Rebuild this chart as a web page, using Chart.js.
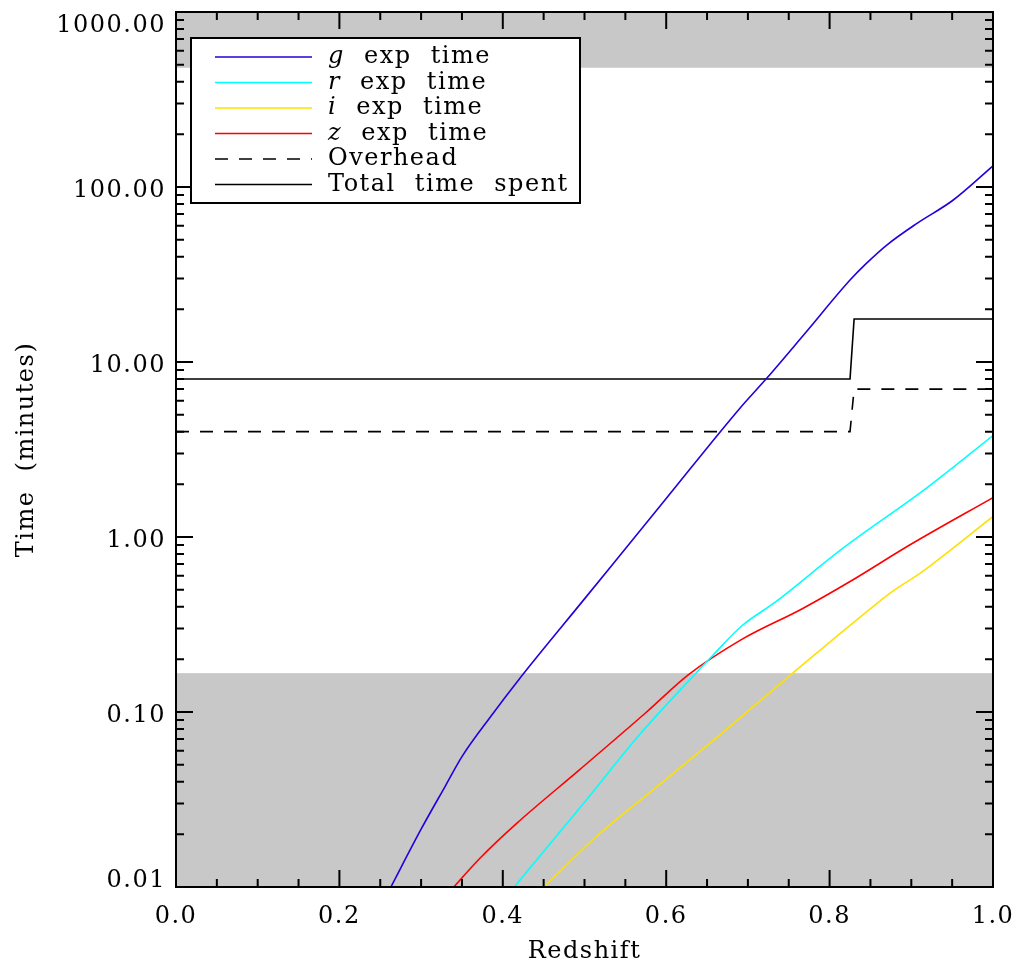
<!DOCTYPE html>
<html>
<head>
<meta charset="utf-8">
<script src="https://cdn.jsdelivr.net/npm/chart.js@4.4.1/dist/chart.umd.min.js"></script>
<style>
html, body { margin: 0; padding: 0; background: #fff; }
</style>
</head>
<body>
<canvas id="timeChart" width="1017" height="963"></canvas>
<script>
// redshift / time (minutes)
const gZ = [0.263, 0.30, 0.33, 0.35, 0.385, 0.42, 0.50, 0.60, 0.69, 0.723, 0.77, 0.825, 0.845, 0.87, 0.907, 0.951, 1.0];
const gTime = [0.01, 0.0214, 0.038, 0.0556, 0.094, 0.154, 0.443, 1.66, 5.43, 8.07, 14.6, 29.4, 36.6, 46.6, 62, 84, 132];

const rZ = [0.414, 0.50, 0.568, 0.630, 0.658, 0.692, 0.733, 0.816, 0.919, 1.0];
const rTime = [0.01, 0.0305, 0.0748, 0.155, 0.213, 0.309, 0.423, 0.861, 1.91, 3.8];

const iZ = [0.450, 0.515, 0.576, 0.658, 0.755, 0.857, 0.88, 0.907, 0.924, 1.0];
const iTime = [0.01, 0.0195, 0.0335, 0.069, 0.167, 0.414, 0.50, 0.604, 0.689, 1.31];

const zZ = [0.340, 0.372, 0.417, 0.4945, 0.576, 0.627, 0.692, 0.766, 0.824, 0.898, 1.0];
const zTime = [0.01, 0.0146, 0.0231, 0.047, 0.10, 0.163, 0.259, 0.388, 0.553, 0.90, 1.68];

const stepZ = [0, 0.825, 0.830, 1.0];
const overheadTime = [4, 4, 7, 7];
const totalTime = [8, 8, 17.6, 17.6];

// shaded limits (minutes)
const bandLow = [0.01, 0.1667];
const bandHigh = [480, 1000];

const xTicks = [0.0, 0.2, 0.4, 0.6, 0.8, 1.0];
const yTicks = [0.01, 0.1, 1, 10, 100, 1000];

const FONT = "'DejaVu Serif', serif";

function pts(xs, ys) {
    return xs.map((v, i) => ({ x: v, y: ys[i] }));
}

const series = [
    { band: 'g', label: ' exp time', color: '#2200dd', data: pts(gZ, gTime) },
    { band: 'r', label: ' exp time', color: '#00ffff', data: pts(rZ, rTime) },
    { band: 'i', label: ' exp time', color: '#ffe000', data: pts(iZ, iTime) },
    { band: 'z', label: ' exp time', color: '#ff0000', data: pts(zZ, zTime) },
    { band: '', label: 'Overhead', color: '#000', dash: [13, 11], data: pts(stepZ, overheadTime) },
    { band: '', label: 'Total time spent', color: '#000', data: pts(stepZ, totalTime) }
];

const datasets = series.map(s => ({
    data: s.data,
    showLine: true,
    borderColor: s.color,
    borderWidth: 1.6,
    borderDash: s.dash || [],
    pointRadius: 0,
    cubicInterpolationMode: s.band ? 'monotone' : 'default',
    tension: 0
}));

// end labels sit inside the axis range, like the original plot
function yLabel(v) {
    const txt = Number(v).toFixed(2);
    if (v === yTicks[yTicks.length - 1]) return ['', txt];
    if (v === yTicks[0]) return [txt, ''];
    return txt;
}

const plotDecor = {
    id: 'plotDecor',
    beforeDraw(chart) {
        // the original lettering is wider and more spaced out
        chart.ctx.letterSpacing = '1.5px';
        chart.ctx.wordSpacing = '10px';
    },
    beforeDatasetsDraw(chart) {
        const { ctx, chartArea: a, scales: { y } } = chart;
        ctx.save();
        ctx.fillStyle = '#c8c8c8';
        [bandLow, bandHigh].forEach(b => {
            const top = y.getPixelForValue(b[1]);
            const bot = y.getPixelForValue(b[0]);
            ctx.fillRect(a.left, top, a.right - a.left, bot - top);
        });
        ctx.restore();
    },
    afterDatasetsDraw(chart) {
        const { ctx, chartArea: a, scales: { x, y } } = chart;
        ctx.save();
        ctx.strokeStyle = '#000';
        ctx.lineWidth = 2;
        ctx.beginPath();
        // x ticks, inward on bottom and top
        for (let k = 0; k <= 20; k++) {
            const px = x.getPixelForValue(k * 0.05);
            const len = (k % 4 === 0) ? 17 : 8;
            ctx.moveTo(px, a.bottom); ctx.lineTo(px, a.bottom - len);
            ctx.moveTo(px, a.top); ctx.lineTo(px, a.top + len);
        }
        // y ticks, inward on left and right
        for (let d = -2; d <= 3; d++) {
            for (let m = 1; m <= 9; m++) {
                const v = m * Math.pow(10, d);
                if (v > 1000) break;
                const py = y.getPixelForValue(v);
                const len = (m === 1) ? 17 : 8;
                ctx.moveTo(a.left, py); ctx.lineTo(a.left + len, py);
                ctx.moveTo(a.right, py); ctx.lineTo(a.right - len, py);
            }
        }
        ctx.stroke();
        ctx.strokeRect(a.left, a.top, a.right - a.left, a.bottom - a.top);
        ctx.restore();
    },
    afterDraw(chart) {
        const ctx = chart.ctx;
        const box = { left: 191, top: 38, right: 580, bottom: 203 };
        ctx.save();
        ctx.fillStyle = '#fff';
        ctx.fillRect(box.left, box.top, box.right - box.left, box.bottom - box.top);
        ctx.strokeStyle = '#000';
        ctx.lineWidth = 2;
        ctx.strokeRect(box.left, box.top, box.right - box.left, box.bottom - box.top);
        ctx.textBaseline = 'middle';
        series.forEach((s, i) => {
            const rowY = 57 + i * 25.5;
            ctx.strokeStyle = s.color;
            ctx.lineWidth = 1.6;
            ctx.setLineDash(s.dash || []);
            ctx.beginPath();
            ctx.moveTo(215, rowY);
            ctx.lineTo(312, rowY);
            ctx.stroke();
            ctx.setLineDash([]);
            ctx.fillStyle = '#000';
            let tx = 328;
            if (s.band) {
                ctx.font = 'italic 24px ' + FONT;
                ctx.fillText(s.band, tx, rowY);
                tx += ctx.measureText(s.band).width;
            }
            ctx.font = '24px ' + FONT;
            ctx.fillText(s.label, tx, rowY);
        });
        ctx.restore();
    }
};

new Chart(document.getElementById('timeChart'), {
    type: 'scatter',
    data: { datasets: datasets },
    options: {
        responsive: false,
        animation: false,
        devicePixelRatio: 1,
        layout: { padding: { top: 12, right: 24, left: 0, bottom: 0 } },
        plugins: {
            legend: { display: false },
            tooltip: { enabled: false }
        },
        scales: {
            x: {
                type: 'linear',
                min: 0,
                max: 1,
                afterFit: scale => {
                    scale.height = 76;
                    scale.paddingLeft = 0;
                    scale.paddingRight = 0;
                },
                afterBuildTicks: scale => { scale.ticks = xTicks.map(v => ({ value: v })); },
                grid: { display: false, drawTicks: false },
                border: { display: false },
                ticks: {
                    padding: 15,
                    color: '#000',
                    font: { family: FONT, size: 24 },
                    callback: v => v.toFixed(1)
                },
                title: {
                    display: true,
                    text: 'Redshift',
                    color: '#000',
                    font: { family: FONT, size: 24 },
                    padding: { top: 0, bottom: -3 }
                }
            },
            y: {
                type: 'logarithmic',
                min: 0.01,
                max: 1000,
                afterFit: scale => {
                    scale.width = 176;
                    scale.paddingTop = 0;
                    scale.paddingBottom = 0;
                },
                afterBuildTicks: scale => { scale.ticks = yTicks.map(v => ({ value: v })); },
                grid: { display: false, drawTicks: false },
                border: { display: false },
                ticks: {
                    padding: 10,
                    labelOffset: 4,
                    autoSkip: false,
                    color: '#000',
                    font: { family: FONT, size: 24, lineHeight: '20px' },
                    callback: v => yLabel(v)
                },
                title: {
                    display: true,
                    text: 'Time (minutes)',
                    color: '#000',
                    font: { family: FONT, size: 24 },
                    padding: { top: 12, bottom: 0 }
                }
            }
        }
    },
    plugins: [plotDecor]
});
</script>
</body>
</html>
